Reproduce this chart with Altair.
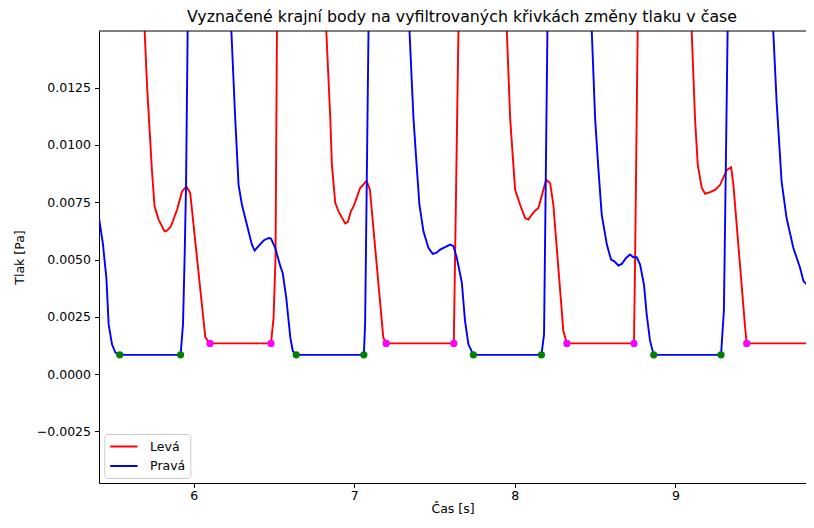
import altair as alt
import pandas as pd

# ---- data ----
red_t = [5.45, 5.695, 5.710, 5.741, 5.757, 5.782, 5.820, 5.834, 5.859, 5.897, 5.928, 5.955, 5.979,
         6.073, 6.102, 6.482, 6.498, 6.510, 6.519, 6.60, 6.826, 6.851, 6.861, 6.882, 6.902, 6.944,
         6.961, 6.979, 6.996, 7.037, 7.077, 7.098, 7.181, 7.199, 7.620, 7.628, 7.649, 7.73, 7.950,
         7.971, 7.991, 8.002, 8.033, 8.064, 8.085, 8.106, 8.126, 8.147, 8.195, 8.220, 8.240, 8.302,
         8.324, 8.742, 8.749, 8.765, 8.85, 9.101, 9.122, 9.139, 9.164, 9.185, 9.216, 9.247, 9.278,
         9.320, 9.347, 9.361, 9.434, 9.444, 9.858, 9.90]
red_p = [0.045, 0.0150, 0.01261, 0.00884, 0.00732, 0.00674, 0.00623, 0.00626, 0.00645, 0.00717, 0.00797, 0.00819, 0.00790,
         0.00160, 0.00134, 0.00134, 0.00247, 0.00507, 0.0150, 0.045, 0.0150, 0.01116, 0.00913, 0.00747, 0.00710, 0.00657,
         0.00664, 0.00710, 0.00732, 0.00812, 0.00843, 0.00804, 0.00160, 0.00134, 0.00134, 0.00507, 0.0150, 0.045, 0.0150,
         0.01116, 0.00913, 0.00804, 0.00739, 0.00681, 0.00674, 0.00696, 0.00713, 0.00725, 0.00848, 0.00833, 0.00739, 0.00189,
         0.00134, 0.00134, 0.00507, 0.0150, 0.045, 0.0150, 0.01116, 0.00913, 0.00812, 0.00787, 0.00794, 0.00804, 0.00826,
         0.00891, 0.00902, 0.00826, 0.00203, 0.00134, 0.00134, 0.00134]

blue_t = [5.40, 5.411, 5.436, 5.444, 5.457, 5.471, 5.492, 5.513, 5.540, 5.919, 5.934, 5.944, 5.953, 5.963,
          6.10, 6.235, 6.259, 6.280, 6.301, 6.332, 6.363, 6.380, 6.404, 6.436, 6.467, 6.482, 6.508, 6.540,
          6.555, 6.577, 6.602, 6.618, 6.639, 7.060, 7.068, 7.089, 7.22, 7.344, 7.369, 7.390, 7.406, 7.431,
          7.462, 7.489, 7.510, 7.535, 7.566, 7.597, 7.618, 7.639, 7.670, 7.690, 7.711, 7.742, 8.166, 8.182,
          8.203, 8.34, 8.479, 8.500, 8.520, 8.541, 8.573, 8.599, 8.618, 8.645, 8.666, 8.693, 8.717, 8.738,
          8.759, 8.780, 8.804, 8.821, 8.842, 8.865, 9.284, 9.302, 9.325, 9.46, 9.609, 9.630, 9.661, 9.692,
          9.734, 9.776, 9.797, 9.818, 9.849, 9.870]
blue_p = [0.0072, 0.00681, 0.00565, 0.00507, 0.00420, 0.00217, 0.00130, 0.00094, 0.00084, 0.00084, 0.00217, 0.00507, 0.00826, 0.0150,
          0.045, 0.0150, 0.01116, 0.00826, 0.00739, 0.00652, 0.00565, 0.00539, 0.00558, 0.00583, 0.00594, 0.00591, 0.00551, 0.00471,
          0.00440, 0.00333, 0.00160, 0.00100, 0.00084, 0.00084, 0.00220, 0.0150, 0.045, 0.0150, 0.01116, 0.00899, 0.00739, 0.00623,
          0.00551, 0.00525, 0.00529, 0.00543, 0.00554, 0.00565, 0.00558, 0.00507, 0.00400, 0.00232, 0.00130, 0.00084, 0.00084, 0.00174,
          0.0150, 0.045, 0.0150, 0.01116, 0.00899, 0.00696, 0.00565, 0.00500, 0.00493, 0.00474, 0.00481, 0.00507, 0.00522, 0.00510,
          0.00510, 0.00478, 0.00391, 0.00261, 0.00145, 0.00084, 0.00084, 0.00280, 0.0150, 0.045, 0.0150, 0.01189, 0.00841, 0.00681,
          0.00551, 0.00464, 0.00406, 0.00391, 0.00420, 0.00450]

green_t = [5.540, 5.919, 6.639, 7.060, 7.742, 8.166, 8.865, 9.284]
green_p = [0.00084] * 8
magenta_t = [6.102, 6.482, 7.199, 7.620, 8.324, 8.742, 9.444, 9.858]
magenta_p = [0.00134] * 8

series_names = ["Levá", "Pravá"]
series_colors = ["#ff0000", "#0000ff"]
x_ticks = [6, 7, 8, 9]
y_ticks = [-0.0025, 0.0, 0.0025, 0.005, 0.0075, 0.01, 0.0125]
x_domain = [5.411, 9.813]
y_domain = [-0.00475, 0.01497]

title_text = "Vyznačené krajní body na vyfiltrovaných křivkách změny tlaku v čase"

# ---- tables ----
lines_df = pd.concat([
    pd.DataFrame({"t": red_t, "p": red_p, "strana": series_names[0]}),
    pd.DataFrame({"t": blue_t, "p": blue_p, "strana": series_names[1]}),
], ignore_index=True)
green_df = pd.DataFrame({"t": green_t, "p": green_p})
magenta_df = pd.DataFrame({"t": magenta_t, "p": magenta_p})

W, H = 707, 452
FONT = "DejaVu Sans"

xscale = alt.Scale(domain=x_domain, nice=False, zero=False)
yscale = alt.Scale(domain=y_domain, nice=False, zero=False)

lines = alt.Chart(lines_df).mark_line(strokeWidth=1.9, clip=True).encode(
    x=alt.X("t:Q", scale=xscale,
            axis=alt.Axis(values=x_ticks, format="d", title="Čas [s]", grid=False,
                          tickSize=4.5, labelPadding=2, titlePadding=0)),
    y=alt.Y("p:Q", scale=yscale,
            axis=alt.Axis(values=y_ticks, format=".4f", title="Tlak [Pa]", grid=False,
                          tickSize=4.5, labelPadding=4, titlePadding=10)),
    color=alt.Color("strana:N",
                    scale=alt.Scale(domain=series_names, range=series_colors),
                    legend=alt.Legend(title=None, orient="none", legendX=5.3, legendY=403,
                                      symbolType="M-1.06,0H3.34", symbolSize=154,
                                      symbolStrokeWidth=2, symbolFillColor="transparent",
                                      labelOffset=25.8, rowPadding=5.5, padding=5,
                                      fillColor="white", strokeColor="#cccccc", cornerRadius=3,
                                      labelFont=FONT, labelFontSize=12.5, labelColor="black")),
    detail="strana:N",
)

green_pts = alt.Chart(green_df).mark_circle(size=52, color="#008000", opacity=1).encode(
    x=alt.X("t:Q", scale=xscale), y=alt.Y("p:Q", scale=yscale))
magenta_pts = alt.Chart(magenta_df).mark_circle(size=52, color="#ff00ff", opacity=1).encode(
    x=alt.X("t:Q", scale=xscale), y=alt.Y("p:Q", scale=yscale))

top_frame = alt.Chart(alt.Data(values=[{}])).mark_rule(color="black", strokeWidth=1).encode(
    x=alt.value(0), x2=alt.value(W), y=alt.value(0))

chart = alt.layer(lines, green_pts, magenta_pts, top_frame).properties(
    width=W, height=H,
    title=alt.TitleParams(text=title_text, fontSize=15.8, font=FONT, fontWeight="normal",
                          anchor="middle", dx=9.5, offset=5, color="black"),
    autosize=alt.AutoSizeParams(type="none"),
    padding={"left": 91, "top": 23, "right": 0, "bottom": 31},
).configure_view(stroke=None).configure_axis(
    domainColor="black", tickColor="black", labelColor="black", titleColor="black",
    labelFont=FONT, titleFont=FONT, labelFontSize=12.5, titleFontSize=12.5,
    titleFontWeight="normal", domainWidth=1, tickWidth=1,
)

chart.save("out.html", embed_options={"renderer": "svg", "actions": False})
